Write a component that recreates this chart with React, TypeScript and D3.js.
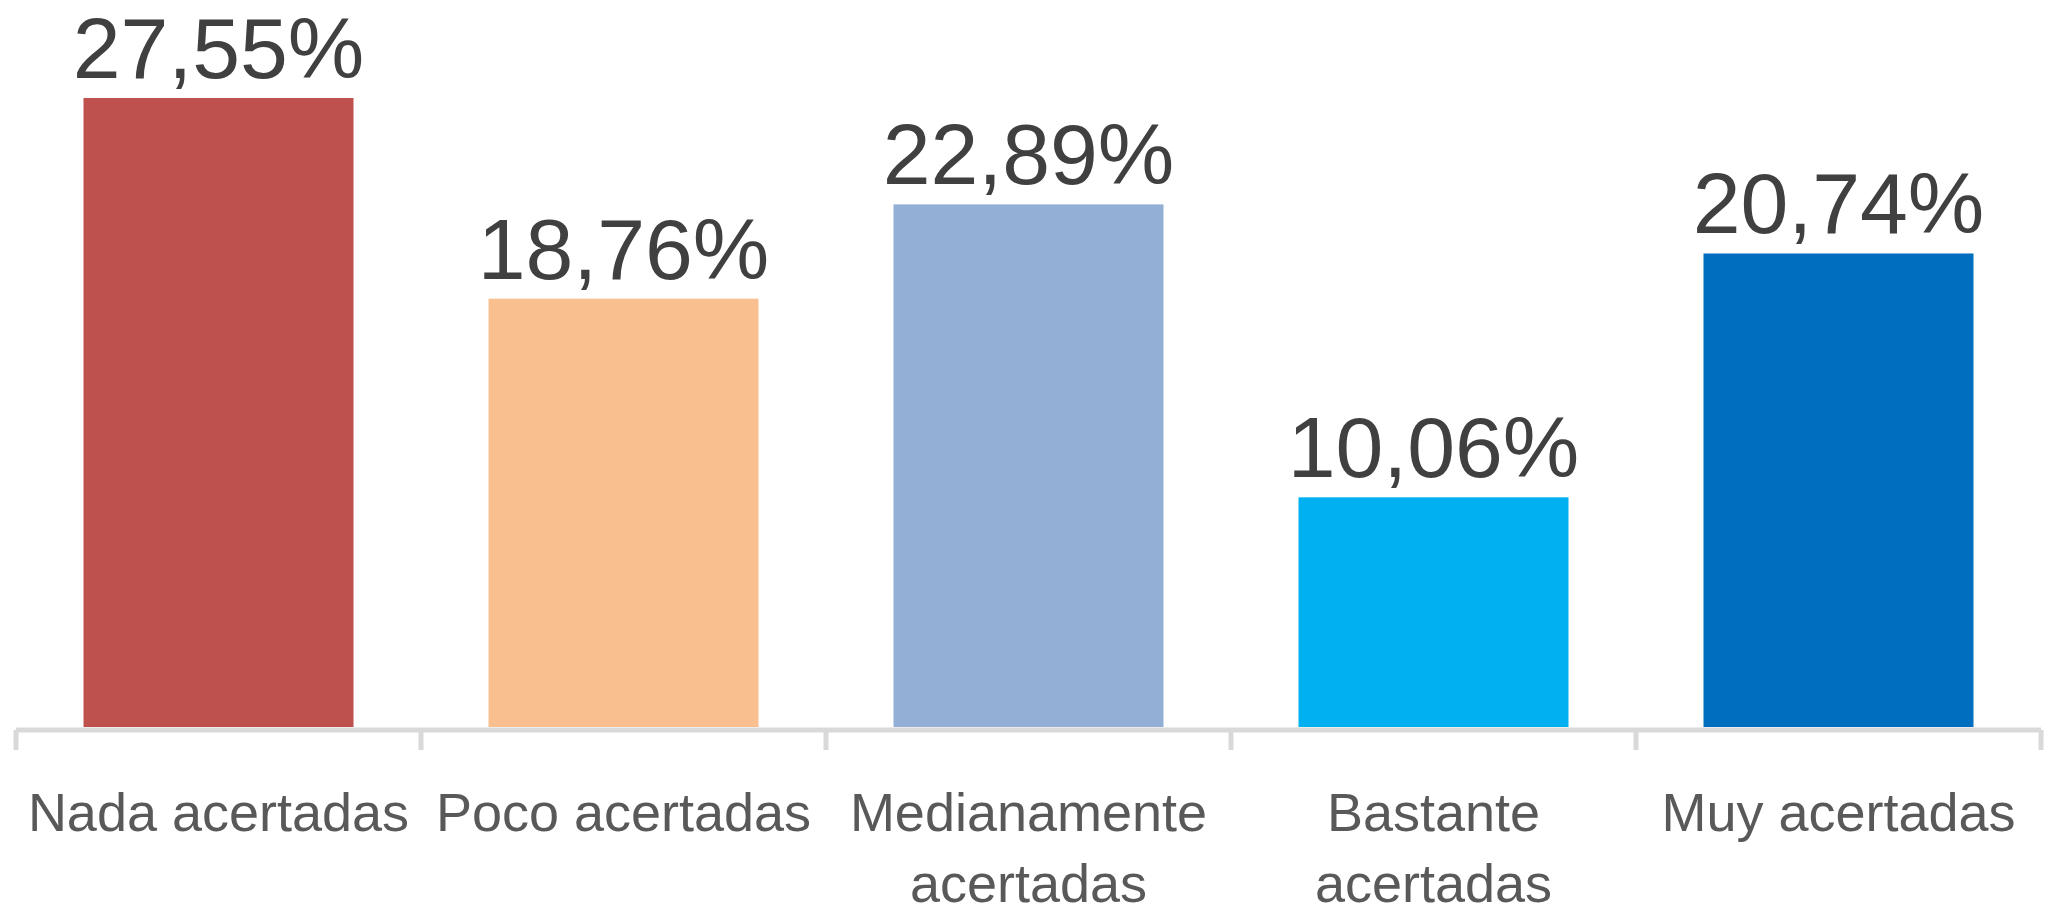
import React from "react";
import * as d3 from "d3";

const categories = ["Nada acertadas", "Poco acertadas", "Medianamente acertadas", "Bastante acertadas", "Muy acertadas"];
const categoryLines = [["Nada acertadas"], ["Poco acertadas"], ["Medianamente", "acertadas"], ["Bastante", "acertadas"], ["Muy acertadas"]];
const values = [27.55, 18.76, 22.89, 10.06, 20.74];
const valueLabels = ["27,55%", "18,76%", "22,89%", "10,06%", "20,74%"];
const colors = ["#BE504D", "#F9BF8F", "#93AFD6", "#00B0F0", "#006EBE"];

const W = 2062;
const H = 914;
const axisY = 730;
const FONT = "'Liberation Sans', Arial, sans-serif";

export default function App() {
  const x = d3.scaleBand<string>().domain(categories).range([16, 2041]).paddingInner(1 / 3).paddingOuter(1 / 6);
  const y = d3.scaleLinear().domain([0, 27.55]).range([727, 98]);
  const step = x.step();
  const ticks = d3.range(categories.length + 1).map((i) => 16 + i * step);

  return (
    <svg width={W} height={H} style={{ position: "absolute", left: 0, top: 0, background: "#fff" }}>
      {categories.map((c, i) => (
        <rect key={c} x={x(c)} y={y(values[i])} width={x.bandwidth()} height={y(0) - y(values[i])} fill={colors[i]} />
      ))}
      <line x1={16} x2={2041} y1={axisY} y2={axisY} stroke="#D9D9D9" strokeWidth={5} />
      {ticks.map((t, i) => (
        <line key={i} x1={t} x2={t} y1={axisY} y2={750} stroke="#D9D9D9" strokeWidth={5} />
      ))}
      {categories.map((c, i) => (
        <text key={"v" + c} x={(x(c) as number) + x.bandwidth() / 2} y={y(values[i]) - 20} textAnchor="middle"
          fontFamily={FONT} fontSize={86} fill="#404040">{valueLabels[i]}</text>
      ))}
      {categories.map((c, i) => (
        <text key={"c" + c} fontFamily={FONT} fontSize={54} fill="#595959" textAnchor="middle">
          {categoryLines[i].map((ln, j) => (
            <tspan key={j} x={(x(c) as number) + x.bandwidth() / 2} y={831 + j * 71}>{ln}</tspan>
          ))}
        </text>
      ))}
    </svg>
  );
}
